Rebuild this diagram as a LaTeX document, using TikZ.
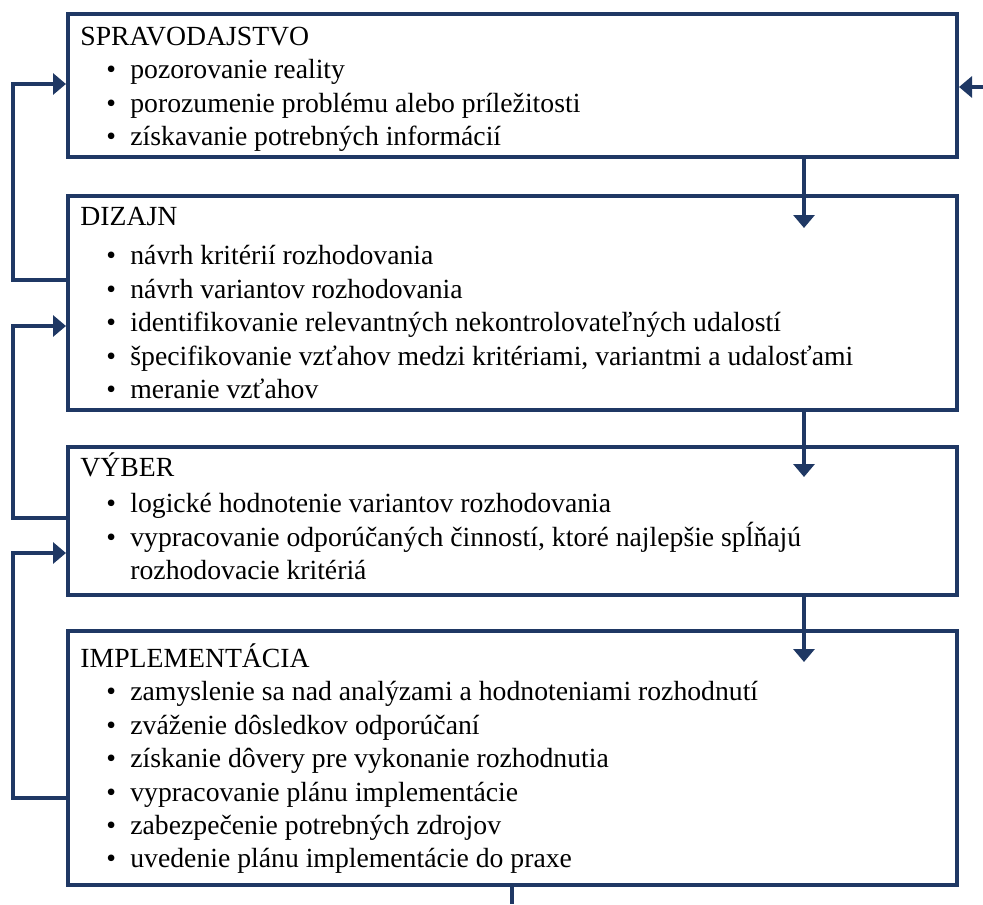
\documentclass[tikz,border=0pt]{standalone}
\usepackage{fontspec}
\setmainfont{Liberation Serif}
\usepackage{tikz}
\usetikzlibrary{arrows.meta, positioning}
\definecolor{navy}{RGB}{31,56,100}
\tikzstyle{block}=[draw=navy,line width=2pt,rectangle,inner sep=0pt,minimum width=444.5pt]
\tikzstyle{txt}=[inner sep=0pt,align=left,font=\fontsize{13.85pt}{16.7pt}\selectfont]
\tikzstyle{flow}=[draw=navy,line width=2pt,-{Triangle[length=6.5pt,width=10.5pt]}]
\tikzstyle{link}=[draw=navy,line width=2pt]
\newcommand{\itm}{\makebox[25pt][l]{\hspace{13pt}\textbullet}}
\newcommand{\hd}{\rule{0pt}{14pt}}

\begin{document}
\begin{tikzpicture}[x=0.5pt,y=-0.5pt]
    \useasboundingbox (0,0) rectangle (983,904);
    \node[block, minimum height=71.5pt] (b1) at (512.5,85.5) {};
    \node[block, minimum height=107pt, below=17.5pt of b1] (b2) {};
    \node[block, minimum height=74pt, below=16.5pt of b2] (b3) {};
    \node[block, minimum height=127pt, below=16pt of b3] (b4) {};
    \node[txt, below right=2.5pt and 7pt of b1.north west] (t1) {\hd SPRAVODAJSTVO\\
        \itm pozorovanie reality\\
        \itm porozumenie problému alebo príležitosti\\
        \itm získavanie potrebných informácií};
    \node[txt, below right=1.5pt and 7pt of b2.north west] (t2) {\hd DIZAJN\\[3pt]
        \itm návrh kritérií rozhodovania\\
        \itm návrh variantov rozhodovania\\
        \itm identifikovanie relevantných nekontrolovateľných udalostí\\
        \itm špecifikovanie vzťahov medzi kritériami, variantmi a udalosťami\\
        \itm meranie vzťahov};
    \node[txt, below right=1.5pt and 7pt of b3.north west] (t3) {\hd VÝBER\\[1.5pt]
        \itm logické hodnotenie variantov rozhodovania\\
        \itm vypracovanie odporúčaných činností, ktoré najlepšie spĺňajú\\
        \hspace*{25pt}rozhodovacie kritériá};
    \node[txt, below right=5pt and 7pt of b4.north west] (t4) {\hd IMPLEMENTÁCIA\\
        \itm zamyslenie sa nad analýzami a hodnoteniami rozhodnutí\\
        \itm zváženie dôsledkov odporúčaní\\
        \itm získanie dôvery pre vykonanie rozhodnutia\\
        \itm vypracovanie plánu implementácie\\
        \itm zabezpečenie potrebných zdrojov\\
        \itm uvedenie plánu implementácie do praxe};
    \coordinate (d1) at (804,228);
    \coordinate (d2) at (804,477);
    \coordinate (d3) at (804,662);
    \coordinate (s1) at (13,280);
    \coordinate (e1) at (0,84);
    \coordinate (s2) at (13,518);
    \coordinate (e2) at (0,326);
    \coordinate (s3) at (13,798);
    \coordinate (e3) at (0,553);
    \coordinate (in) at (983,87);
    \coordinate (out) at (512,904);
    \draw[flow] (b1.south -| d1) -- (d1);
    \draw[flow] (b2.south -| d2) -- (d2);
    \draw[flow] (b3.south -| d3) -- (d3);
    \draw[flow] (b2.west |- s1) -- (s1) |- (b1.west |- e1);
    \draw[flow] (b3.west |- s2) -- (s2) |- (b2.west |- e2);
    \draw[flow] (b4.west |- s3) -- (s3) |- (b3.west |- e3);
    \draw[flow] (in) -- (b1.east |- in);
    \draw[link] (b4.south -| out) -- (out);
\end{tikzpicture}
\end{document}
